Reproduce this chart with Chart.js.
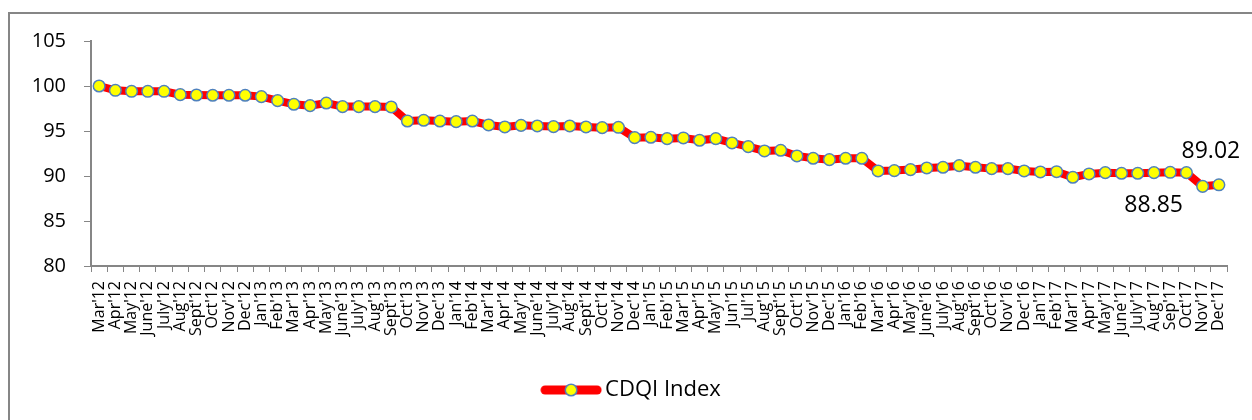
<!DOCTYPE html>
<html lang="en">
<head>
  <meta charset="UTF-8">
  <title>CDQI Index</title>
  <script src="https://cdn.jsdelivr.net/npm/chart.js"></script>
  <style>
    body {
      margin: 0;
      background: #fff;
    }
    #wrap {
      position: relative;
      width: 1252px;
      height: 420px;
    }
  </style>
</head>
<body>
  <div id="wrap">
    <canvas id="cdqi" width="1252" height="420"></canvas>
  </div>

  <script>
    const months = [
      "Mar'12", "Apr'12", "May'12", "June'12", "July'12", "Aug'12", "Sept'12", "Oct'12", "Nov'12", "Dec'12",
      "Jan'13", "Feb'13", "Mar'13", "Apr'13", "May'13", "June'13", "July'13", "Aug'13", "Sept'13", "Oct'13", "Nov'13", "Dec'13",
      "Jan'14", "Feb'14", "Mar'14", "Apr'14", "May'14", "June'14", "July'14", "Aug'14", "Sept'14", "Oct'14", "Nov'14", "Dec'14",
      "Jan'15", "Feb'15", "Mar'15", "Apr'15", "May'15", "Jun'15", "Jul'15", "Aug'15", "Sept'15", "Oct'15", "Nov'15", "Dec'15",
      "Jan'16", "Feb'16", "Mar'16", "Apr'16", "May'16", "June'16", "July'16", "Aug'16", "Sept'16", "Oct'16", "Nov'16", "Dec'16",
      "Jan'17", "Feb'17", "Mar'17", "Apr'17", "May'17", "June'17", "July'17", "Aug'17", "Sep'17", "Oct'17", "Nov'17", "Dec'17"
    ];

    const cdqi = [
      100.00, 99.52, 99.41, 99.41, 99.41, 99.04, 99.00, 98.97, 98.97, 98.97,
      98.82, 98.37, 97.97, 97.82, 98.11, 97.71, 97.71, 97.71, 97.67, 96.11, 96.19, 96.11,
      96.04, 96.11, 95.67, 95.45, 95.63, 95.56, 95.49, 95.56, 95.45, 95.37, 95.41, 94.26,
      94.30, 94.15, 94.23, 93.97, 94.15, 93.67, 93.26, 92.78, 92.86, 92.23, 91.97, 91.82,
      91.97, 91.97, 90.56, 90.60, 90.71, 90.89, 90.97, 91.15, 90.97, 90.82, 90.82, 90.56,
      90.45, 90.48, 89.86, 90.23, 90.37, 90.30, 90.30, 90.37, 90.41, 90.37, 88.85, 89.02
    ];

    // points that carry a value label, and where the label sits
    const labelIdx = [68, 69];
    const labelPos = ["below", "above"];

    const yTicks = [80, 85, 90, 95, 100, 105];

    const FONT = "'Open Sans', sans-serif";
    const GREY = "#868686";

    // legend sample: thick red line with the marker on top
    const legendIcon = document.createElement("canvas");
    legendIcon.width = 62;
    legendIcon.height = 16;
    (function () {
      const c = legendIcon.getContext("2d");
      c.strokeStyle = "#ff0000";
      c.lineWidth = 9;
      c.lineCap = "round";
      c.beginPath();
      c.moveTo(5, 8);
      c.lineTo(57, 8);
      c.stroke();
      c.beginPath();
      c.arc(31, 8, 5.8, 0, Math.PI * 2);
      c.fillStyle = "#ffff00";
      c.fill();
      c.lineWidth = 1.5;
      c.strokeStyle = "#4f81bd";
      c.stroke();
    })();

    const frame = {
      id: "frame",
      afterLayout(chart) {
        // the legend sits a little right of the plot centre
        chart.legend.left += 16;
        chart.legend.right += 16;
      },
      beforeDraw(chart) {
        const ctx = chart.ctx;
        ctx.save();
        ctx.strokeStyle = GREY;
        ctx.lineWidth = 2;
        ctx.beginPath();
        ctx.moveTo(9, 420);
        ctx.lineTo(9, 13);
        ctx.lineTo(1252, 13);
        ctx.stroke();
        ctx.restore();
      }
    };

    const valueLabels = {
      id: "valueLabels",
      afterDatasetsDraw(chart) {
        const ctx = chart.ctx;
        const meta = chart.getDatasetMeta(0);
        ctx.save();
        ctx.font = "23px " + FONT;
        ctx.fillStyle = "#000";
        ctx.textBaseline = "middle";
        ctx.textAlign = "center";
        labelIdx.forEach((idx, k) => {
          const pt = meta.data[idx];
          const txt = cdqi[idx].toFixed(2);
          if (labelPos[k] === "above") {
            ctx.fillText(txt, pt.x - 8, pt.y - 33);
          } else {
            ctx.fillText(txt, pt.x - 49, pt.y + 19);
          }
        });
        ctx.restore();
      }
    };

    new Chart(document.getElementById("cdqi"), {
      type: "line",
      data: {
        labels: months,
        datasets: [{
          label: "CDQI Index",
          data: cdqi,
          borderColor: "#ff0000",
          borderWidth: 8,
          tension: 0,
          pointRadius: 5.8,
          pointBorderWidth: 1.5,
          pointBackgroundColor: "#ffff00",
          pointBorderColor: "#4f81bd",
          pointStyle: "circle",
          fill: false
        }]
      },
      options: {
        responsive: false,
        animation: false,
        events: [],
        layout: {
          padding: { left: 10, top: 41, right: 25, bottom: 9 }
        },
        scales: {
          x: {
            offset: true,
            grid: {
              display: true,
              drawOnChartArea: false,
              drawTicks: true,
              tickLength: 6,
              color: GREY,
              offset: true
            },
            border: { display: true, color: GREY, width: 2 },
            ticks: {
              autoSkip: false,
              minRotation: 90,
              maxRotation: 90,
              padding: 9,
              color: "#000",
              font: { family: FONT, size: 16 }
            },
            afterFit(scale) { scale.height = 103; }
          },
          y: {
            min: 80,
            max: 105,
            afterBuildTicks(scale) {
              scale.ticks = yTicks.map(v => ({ value: v }));
            },
            grid: {
              display: true,
              drawOnChartArea: false,
              drawTicks: true,
              tickLength: 7,
              color: GREY
            },
            border: { display: true, color: GREY, width: 2 },
            ticks: {
              padding: 18,
              color: "#000",
              font: { family: FONT, size: 20 }
            },
            afterFit(scale) { scale.width = 81; }
          }
        },
        plugins: {
          legend: {
            position: "bottom",
            labels: {
              usePointStyle: true,
              pointStyleWidth: 46,
              padding: 10,
              color: "#000",
              font: { family: FONT, size: 22 },
              generateLabels(chart) {
                return [{
                  text: chart.data.datasets[0].label,
                  pointStyle: legendIcon,
                  fillStyle: "#ffff00",
                  strokeStyle: "#4f81bd",
                  lineWidth: 0,
                  datasetIndex: 0
                }];
              }
            }
          },
          tooltip: { enabled: false }
        }
      },
      plugins: [frame, valueLabels]
    });
  </script>
</body>
</html>
